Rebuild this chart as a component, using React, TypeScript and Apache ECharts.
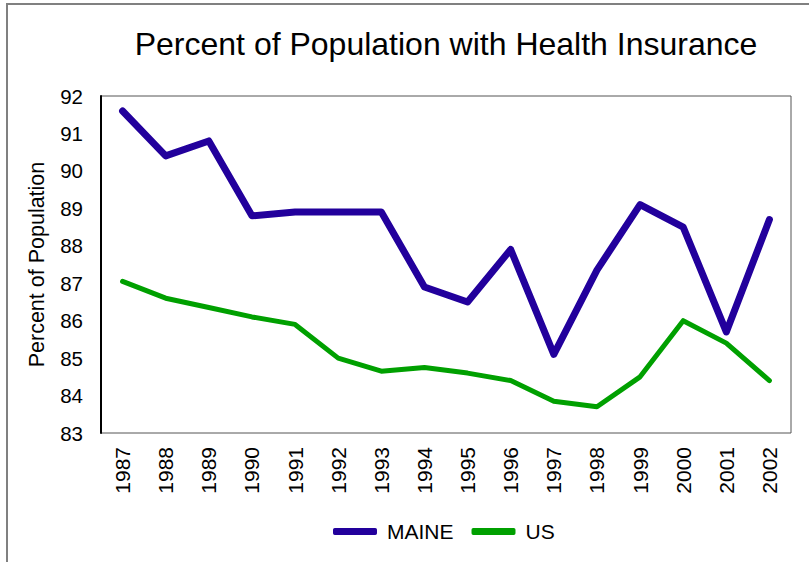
import React, { useEffect, useRef } from "react";
import * as echarts from "echarts";

const years = ["1987","1988","1989","1990","1991","1992","1993","1994","1995","1996","1997","1998","1999","2000","2001","2002"];
const maine = [91.6, 90.4, 90.8, 88.8, 88.9, 88.9, 88.9, 86.9, 86.5, 87.9, 85.1, 87.35, 89.1, 88.5, 85.7, 88.7];
const us = [87.05, 86.6, 86.35, 86.1, 85.9, 85.0, 84.65, 84.75, 84.6, 84.4, 83.85, 83.7, 84.5, 86.0, 85.4, 84.4];
const yMin = 83;
const yMax = 92;

export default function App() {
  const ref = useRef<HTMLDivElement>(null);
  useEffect(() => {
    if (!ref.current) return;
    const chart = echarts.init(ref.current, null, { renderer: "svg" });
    const font = "Liberation Sans, Arial, sans-serif";
    chart.setOption({
      animation: false,
      backgroundColor: "#ffffff",
      title: {
        text: "Percent of Population with Health Insurance",
        left: 441,
        top: 23,
        textAlign: "center",
        textStyle: { fontFamily: font, fontSize: 32, fontWeight: "normal", color: "#000" },
      },
      graphic: [
        {
          type: "rect",
          shape: { x: 7, y: 4, width: 900, height: 700 },
          style: { fill: "none", stroke: "#808080", lineWidth: 2 },
          silent: true,
        },
      ],
      legend: {
        data: [
          { name: "MAINE", icon: "roundRect" },
          { name: "US", icon: "roundRect" },
        ],
        left: 333,
        top: 521,
        padding: 0,
        itemWidth: 44,
        itemHeight: 7,
        itemGap: 18,
        textStyle: { fontFamily: font, fontSize: 21, color: "#000", padding: [0, 0, 0, 5] },
      },
      grid: {
        left: 101,
        top: 96,
        right: 18,
        bottom: 129,
        show: true,
        borderColor: "#555",
        borderWidth: 1,
        containLabel: false,
      },
      xAxis: {
        type: "category",
        data: years,
        boundaryGap: true,
        axisLine: {
          show: true,
          lineStyle: { color: "#000", width: 2, shadowColor: "rgba(0,0,0,0.35)", shadowOffsetY: 2, shadowBlur: 1 },
        },
        axisTick: { show: false },
        axisLabel: { rotate: 90, margin: 14, fontFamily: font, fontSize: 21, color: "#000" },
        splitLine: { show: false },
      },
      yAxis: {
        type: "value",
        min: yMin,
        max: yMax,
        interval: 1,
        name: "Percent of Population",
        nameLocation: "middle",
        nameGap: 53,
        nameRotate: 90,
        nameTextStyle: { fontFamily: font, fontSize: 21.5, color: "#000" },
        axisLine: { show: true, lineStyle: { color: "#000", width: 2 } },
        axisTick: { show: false },
        axisLabel: { margin: 18, fontFamily: font, fontSize: 20.5, color: "#000" },
        splitLine: { show: false },
      },
      series: [
        {
          name: "MAINE",
          type: "line",
          data: maine,
          symbol: "none",
          color: "#22009C",
          lineStyle: { width: 7, color: "#22009C", cap: "round", join: "round" },
        },
        {
          name: "US",
          type: "line",
          data: us,
          symbol: "none",
          color: "#00A000",
          lineStyle: { width: 5, color: "#00A000", cap: "round", join: "round" },
        },
      ],
    });
    return () => chart.dispose();
  }, []);
  return (
    <div
      ref={ref}
      style={{ position: "fixed", left: 0, top: 0, width: 809, height: 562 }}
    />
  );
}
